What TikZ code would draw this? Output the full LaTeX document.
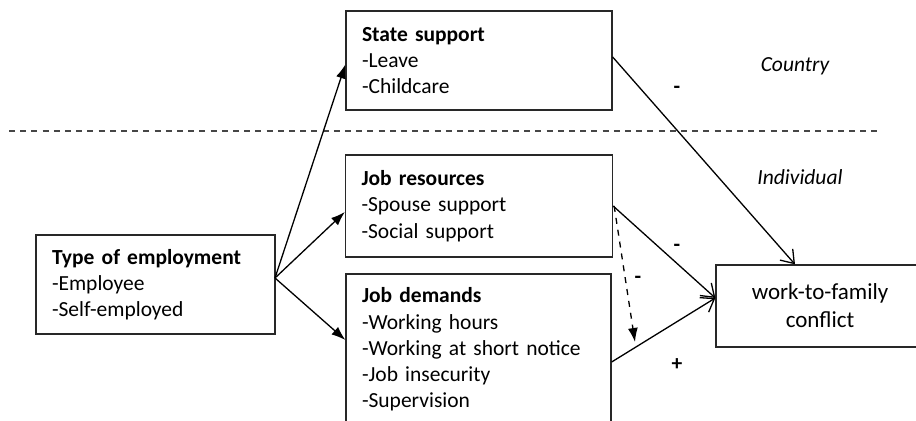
\documentclass[tikz,border=0pt]{standalone}
\usepackage{fontspec}
\setmainfont{Carlito}
\usepackage{color}
\definecolor{myframe}{RGB}{40,40,40}
\definecolor{mydash}{RGB}{70,70,70}
\usetikzlibrary{arrows.meta,positioning,calc}

\begin{document}
\begin{tikzpicture}[
  x=0.5pt, y=-0.5pt,
  line width=0.65pt,
  mybox/.style={
    draw=myframe,
    rectangle,
    align=left,
    inner xsep=8pt,
    inner ysep=0pt,
    font=\fontsize{10.75}{13.15}\selectfont
    },
  mywfc/.style={
    draw=myframe,
    rectangle,
    align=center,
    inner sep=0pt,
    font=\fontsize{11.5}{14}\selectfont
    },
  mylevel/.style={font=\fontsize{10.75}{13.15}\selectfont\itshape},
  mysign/.style={font=\fontsize{10.75}{13.15}\selectfont\bfseries},
  solid arrow/.style={-{Latex[length=7pt,width=5pt]}},
  open arrow/.style={-{Straight Barb[length=6pt,width=8.5pt]}}
]
\clip (0,0) rectangle (916,421);

% boxes
\node [mybox, text width=103.5pt, minimum height=49.5pt] (emp) at (155.5,284.5)
  {\textbf{Type of employment}\\-Employee\\-Self-employed};
\node [mybox, text width=117pt, minimum height=49.5pt] (state) at (479,60.5)
  {\textbf{State support}\\-Leave\\-Childcare};
\node [mybox, text width=117.5pt, minimum height=51pt] (res) at (479,206)
  {\textbf{Job resources}\\-Spouse support\\-Social support};
\node [mybox, text width=116.5pt, minimum height=75.5pt] (dem) at (478.5,349.5)
  {\textbf{Job demands}\\-Working hours\\-Working at short notice\\-Job insecurity\\-Supervision};
\node [mywfc, text width=104pt, minimum height=41pt] (wfc) at (820,306)
  {work-to-family\\conflict};

% levels
\draw [mydash, line width=0.75pt, dash pattern=on 3pt off 2.6pt] (9,131) -- (882,131);
\node [mylevel] (country) at (795,66) {Country};
\node [mylevel] (indiv) at (800,177) {Individual};

% paths
\coordinate (fan) at (275,278);
\coordinate (modtip) at (635,342);
\draw [solid arrow] (fan) -- ([yshift=-2pt]state.west);
\draw [solid arrow] (fan) -- ([yshift=-3pt]res.west);
\draw [solid arrow] (fan) -- ([yshift=4.75pt]dem.west);
\draw [open arrow] ([yshift=1.75pt]state.east) -- ([xshift=-12.5pt]wfc.north);
\draw [open arrow] (res.east) -- ([yshift=4pt]wfc.west);
\draw [open arrow] ([yshift=-6.25pt]dem.east) -- ([yshift=4pt]wfc.west);
\draw [solid arrow, dashed] ([xshift=0.5pt]res.east) -- (modtip);

% signs
\node [mysign] (s1) at (677,90) {-};
\node [mysign] (s2) at (677,248) {-};
\node [mysign] (s3) at (638,280) {-};
\node [mysign] (s4) at (677,365) {+};

\end{tikzpicture}
\end{document}
